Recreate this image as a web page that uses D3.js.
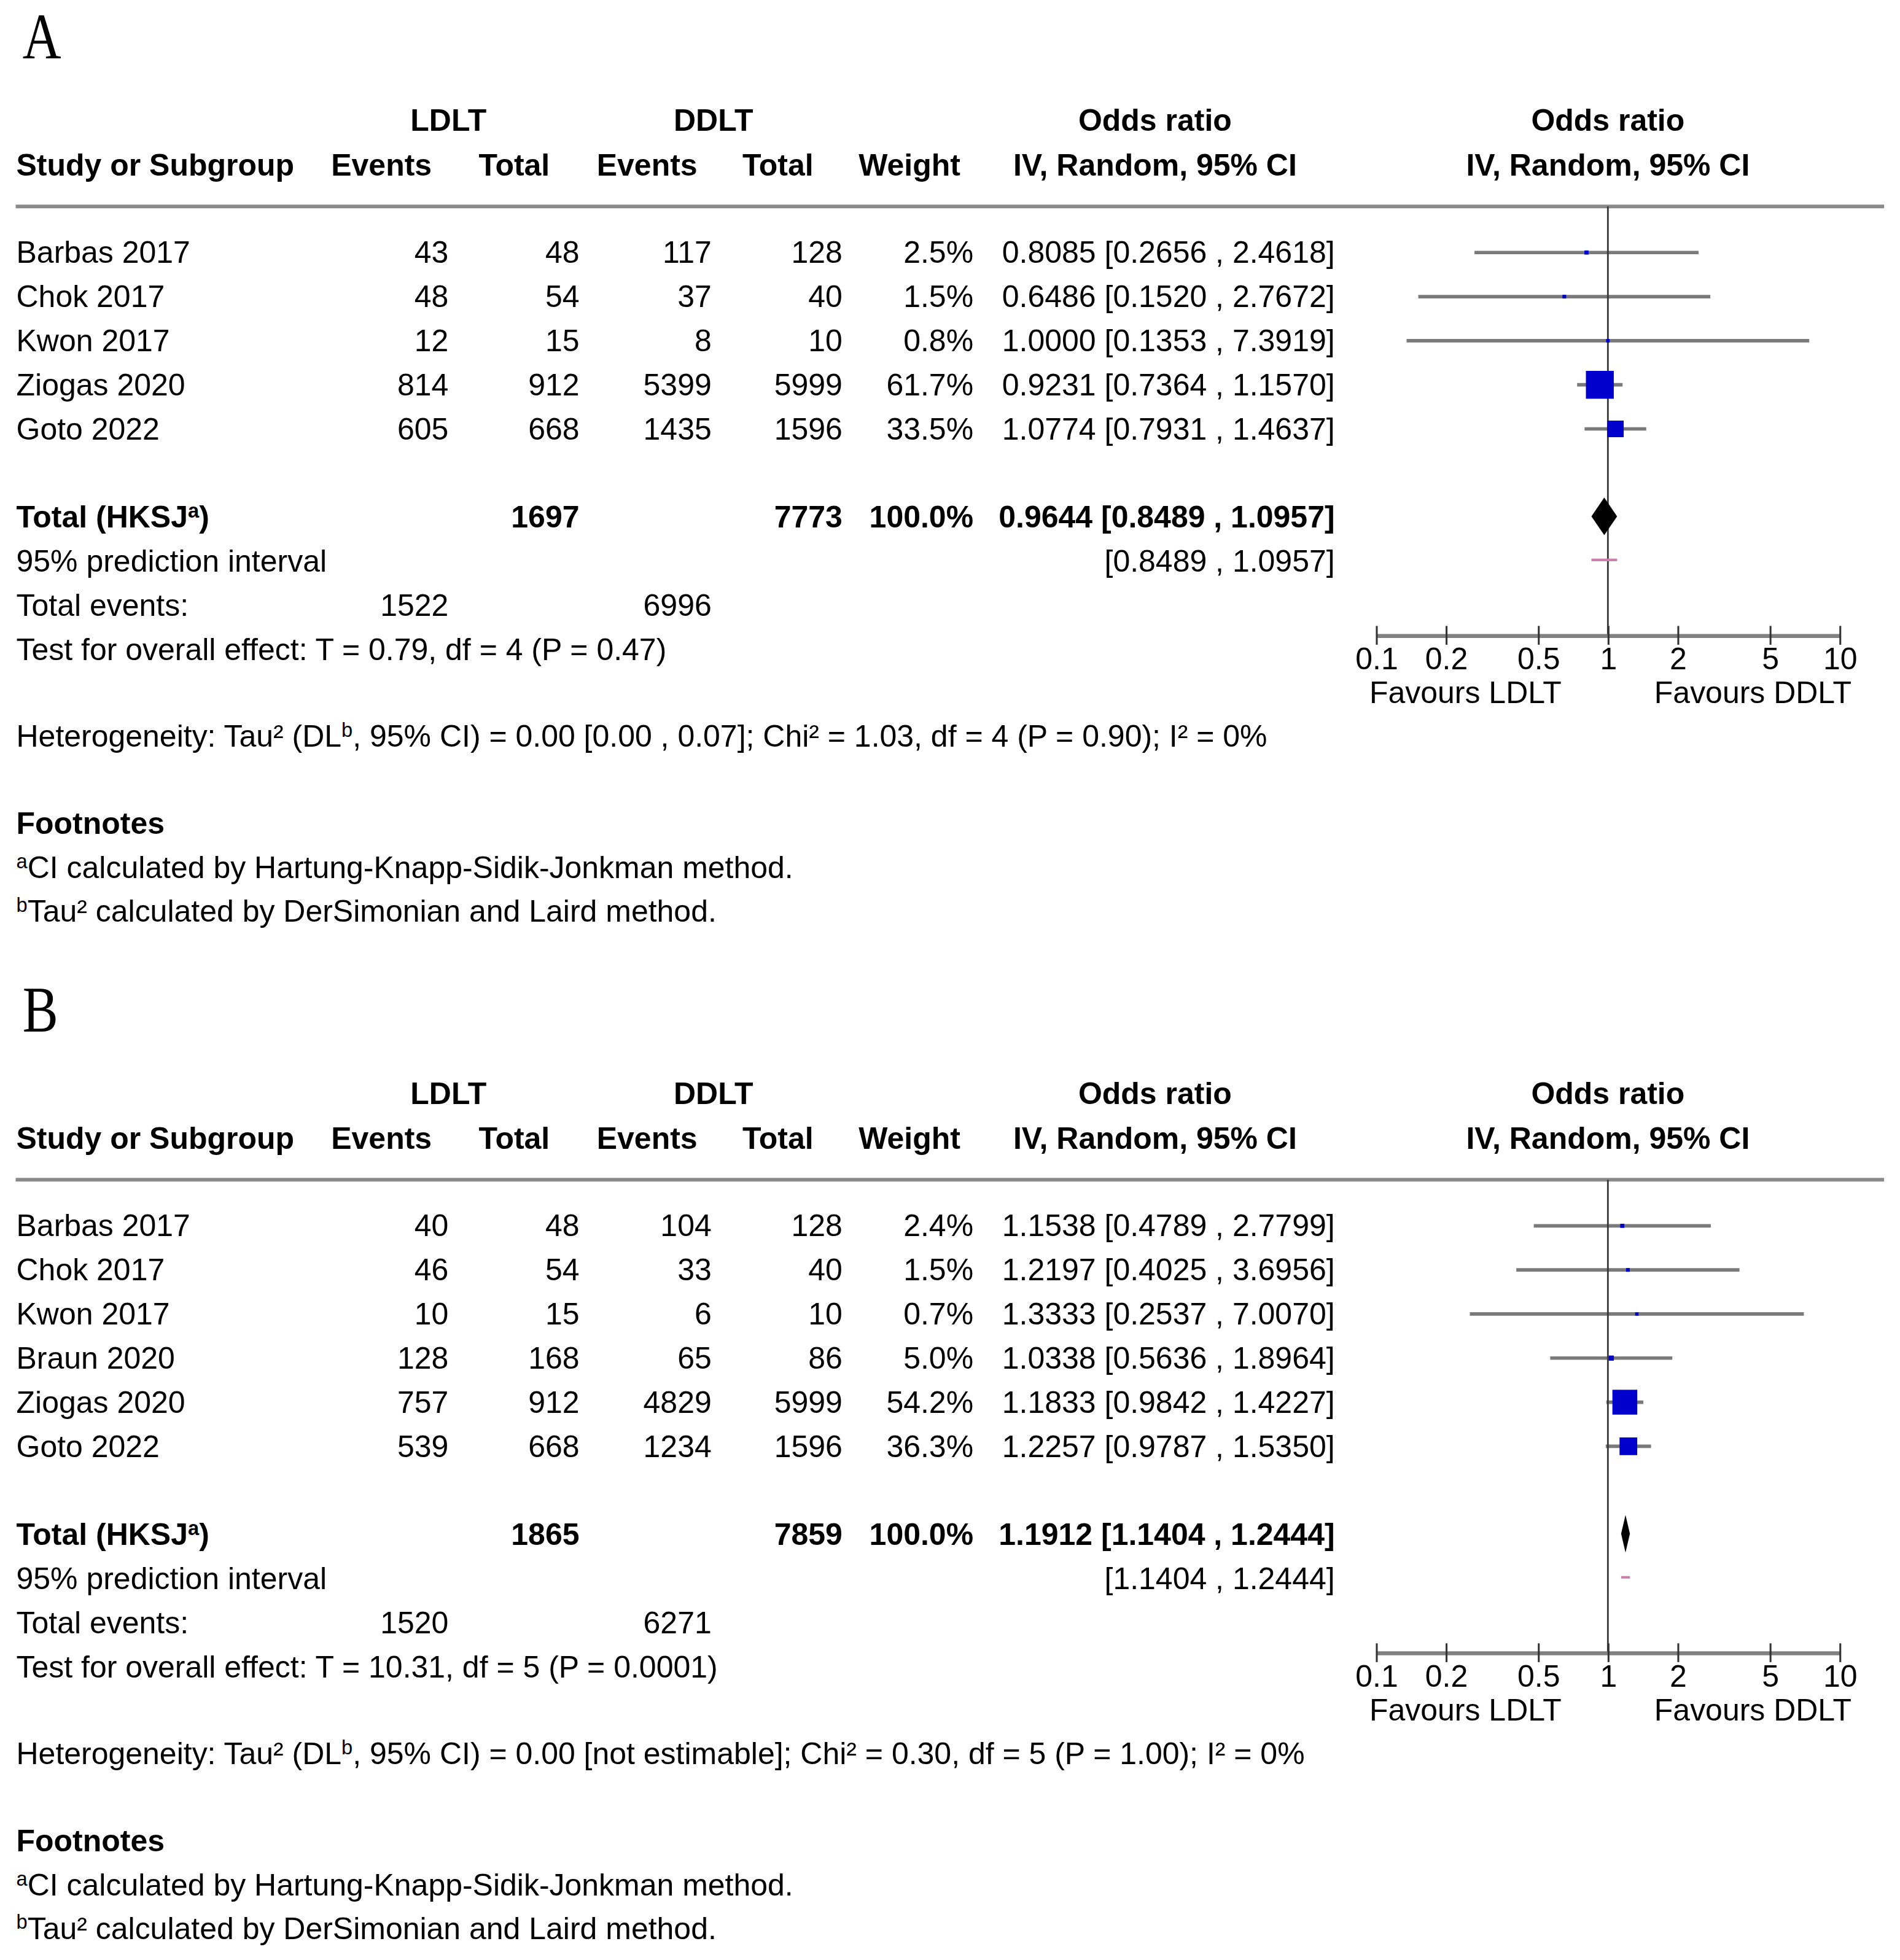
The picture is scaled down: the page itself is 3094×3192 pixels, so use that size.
<!DOCTYPE html>
<html>
<head>
<meta charset="utf-8">
<script src="https://cdn.jsdelivr.net/npm/d3@7"></script>
<style>
  html, body { margin: 0; padding: 0; background: #fff; }
  svg { display: block; }
  text { font-family: "Liberation Sans", Arial, Helvetica, sans-serif; fill: #000; }
</style>
</head>
<body>
<svg id="chart"></svg>
<script>
const W = 3094, H = 3192;
const K = 2.04;            // layout is written in units of 1/2.04 px

// --- panel A ---
const studiesA    = ['Barbas 2017', 'Chok 2017', 'Kwon 2017', 'Ziogas 2020', 'Goto 2022'];
const ldltEventsA = [43, 48, 12, 814, 605];
const ldltTotalA  = [48, 54, 15, 912, 668];
const ddltEventsA = [117, 37, 8, 5399, 1435];
const ddltTotalA  = [128, 40, 10, 5999, 1596];
const weightA     = [2.5, 1.5, 0.8, 61.7, 33.5];
const orA         = [0.8085, 0.6486, 1.0000, 0.9231, 1.0774];
const loA         = [0.2656, 0.1520, 0.1353, 0.7364, 0.7931];
const hiA         = [2.4618, 2.7672, 7.3919, 1.1570, 1.4637];
const sumsA       = [1522, 1697, 6996, 7773];        // LDLT events, LDLT total, DDLT events, DDLT total
const pooledA     = [0.9644, 0.8489, 1.0957];        // OR, lower, upper
const predA       = [0.8489, 1.0957];
const testA       = 'Test for overall effect: T = 0.79, df = 4 (P = 0.47)';
const hetA        = ['Heterogeneity: Tau² (DL', 'b', ', 95% CI) = 0.00 [0.00 , 0.07]; Chi² = 1.03, df = 4 (P = 0.90); I² = 0%'];

// --- panel B ---
const studiesB    = ['Barbas 2017', 'Chok 2017', 'Kwon 2017', 'Braun 2020', 'Ziogas 2020', 'Goto 2022'];
const ldltEventsB = [40, 46, 10, 128, 757, 539];
const ldltTotalB  = [48, 54, 15, 168, 912, 668];
const ddltEventsB = [104, 33, 6, 65, 4829, 1234];
const ddltTotalB  = [128, 40, 10, 86, 5999, 1596];
const weightB     = [2.4, 1.5, 0.7, 5.0, 54.2, 36.3];
const orB         = [1.1538, 1.2197, 1.3333, 1.0338, 1.1833, 1.2257];
const loB         = [0.4789, 0.4025, 0.2537, 0.5636, 0.9842, 0.9787];
const hiB         = [2.7799, 3.6956, 7.0070, 1.8964, 1.4227, 1.5350];
const sumsB       = [1520, 1865, 6271, 7859];
const pooledB     = [1.1912, 1.1404, 1.2444];
const predB       = [1.1404, 1.2444];
const testB       = 'Test for overall effect: T = 10.31, df = 5 (P = 0.0001)';
const hetB        = ['Heterogeneity: Tau² (DL', 'b', ', 95% CI) = 0.00 [not estimable]; Chi² = 0.30, df = 5 (P = 1.00); I² = 0%'];

// shared labels
const axisTicks  = [0.1, 0.2, 0.5, 1, 2, 5, 10];
const favours    = ['Favours LDLT', 'Favours DDLT'];
const footnoteA  = ['', 'a', 'CI calculated by Hartung-Knapp-Sidik-Jonkman method.'];
const footnoteB  = ['', 'b', 'Tau² calculated by DerSimonian and Laird method.'];

const FS = 24.5;
const ROW = 35.2;
const COL = { study: 13, ldltEv: 358, ldltTot: 462.5, ddltEv: 568, ddltTot: 672.5, weight: 777, ci: 1065.5 };

const x = d3.scaleLog().domain([0.1, 10]).range([1098.5, 1468.5]);
const box = d3.scaleLinear().domain([0, 100]).range([2.5, 34.5]);
const f4 = d3.format('.4f');
const f1 = d3.format('.1f');
const ciText = (o, l, h) => `${f4(o)} [${f4(l)} , ${f4(h)}]`;

const svg = d3.select('#chart')
  .attr('width', W).attr('height', H)
  .attr('viewBox', `0 0 ${W} ${H}`);
svg.append('rect').attr('width', W).attr('height', H).attr('fill', '#fff');
const root = svg.append('g').attr('transform', `scale(${K})`);

// text with alternating normal / superscript pieces
function label(g, px, py, parts, anchor, bold) {
  const t = g.append('text')
    .attr('x', px).attr('y', py)
    .attr('font-size', FS)
    .attr('text-anchor', anchor || 'start')
    .attr('font-weight', bold ? 'bold' : null);
  if (typeof parts === 'string') return t.text(parts);
  parts.forEach((s, i) => {
    const sup = i % 2 === 1;
    t.append('tspan')
      .attr('font-size', sup ? 16 : FS)
      .attr('dy', sup ? -8 : (i > 0 ? 8 : 0))
      .text(s);
  });
  return t;
}

function drawPanel(p, top) {
  const g = root.append('g').attr('transform', `translate(0,${top})`);

  g.append('text')
    .attr('transform', 'translate(18,46.6) scale(0.82,1)')
    .style('font-family', '"Liberation Serif", "Times New Roman", serif')
    .attr('font-size', 52)
    .text(p.tag);

  const xc = x(1);

  // header
  const h1 = 104.5, h2 = 140.2;
  label(g, 358, h1, 'LDLT', 'middle', true);
  label(g, 569.5, h1, 'DDLT', 'middle', true);
  label(g, 922, h1, 'Odds ratio', 'middle', true);
  label(g, xc, h1, 'Odds ratio', 'middle', true);
  label(g, COL.study, h2, 'Study or Subgroup', 'start', true);
  label(g, 304.5, h2, 'Events', 'middle', true);
  label(g, 410.5, h2, 'Total', 'middle', true);
  label(g, 516.5, h2, 'Events', 'middle', true);
  label(g, 621, h2, 'Total', 'middle', true);
  label(g, 726, h2, 'Weight', 'middle', true);
  label(g, 922, h2, 'IV, Random, 95% CI', 'middle', true);
  label(g, xc, h2, 'IV, Random, 95% CI', 'middle', true);

  const ruleY = 164.8;
  g.append('line')
    .attr('x1', 12.5).attr('x2', 1504)
    .attr('y1', ruleY).attr('y2', ruleY)
    .attr('stroke', '#8a8a8a').attr('stroke-width', 3);

  const n = p.studies.length;
  const rowY = i => 210 + ROW * i;   // text baseline
  const T = rowY(n + 1);             // total row baseline
  const axisY = T + 86;

  // study rows (text)
  p.studies.forEach((s, i) => {
    const y = rowY(i);
    label(g, COL.study, y, s);
    label(g, COL.ldltEv, y, String(p.ldltEvents[i]), 'end');
    label(g, COL.ldltTot, y, String(p.ldltTotal[i]), 'end');
    label(g, COL.ddltEv, y, String(p.ddltEvents[i]), 'end');
    label(g, COL.ddltTot, y, String(p.ddltTotal[i]), 'end');
    label(g, COL.weight, y, f1(p.weight[i]) + '%', 'end');
    label(g, COL.ci, y, ciText(p.or[i], p.lo[i], p.hi[i]), 'end');
  });

  // totals
  label(g, COL.study, T, ['Total (HKSJ', 'a', ')'], 'start', true);
  label(g, COL.ldltTot, T, String(p.sums[1]), 'end', true);
  label(g, COL.ddltTot, T, String(p.sums[3]), 'end', true);
  label(g, COL.weight, T, '100.0%', 'end', true);
  label(g, COL.ci, T, ciText(p.pooled[0], p.pooled[1], p.pooled[2]), 'end', true);

  label(g, COL.study, T + ROW, '95% prediction interval');
  label(g, COL.ci, T + ROW, `[${f4(p.pred[0])} , ${f4(p.pred[1])}]`, 'end');

  label(g, COL.study, T + 2 * ROW, 'Total events:');
  label(g, COL.ldltEv, T + 2 * ROW, String(p.sums[0]), 'end');
  label(g, COL.ddltEv, T + 2 * ROW, String(p.sums[2]), 'end');

  label(g, COL.study, T + 3 * ROW, p.test);
  label(g, COL.study, T + 175, p.het);
  label(g, COL.study, T + 244.5, 'Footnotes', 'start', true);
  label(g, COL.study, T + 280, footnoteA);
  label(g, COL.study, T + 314.5, footnoteB);

  // forest plot
  const plot = g.append('g');
  plot.selectAll('line.ci').data(p.studies).join('line')
    .attr('class', 'ci')
    .attr('x1', (d, i) => x(p.lo[i])).attr('x2', (d, i) => x(p.hi[i]))
    .attr('y1', (d, i) => rowY(i) - 8.4).attr('y2', (d, i) => rowY(i) - 8.4)
    .attr('stroke', '#7a7a7a').attr('stroke-width', 2.8);

  plot.append('line')
    .attr('x1', xc).attr('x2', xc)
    .attr('y1', ruleY).attr('y2', axisY)
    .attr('stroke', '#3a3a3a').attr('stroke-width', 1.4);

  plot.selectAll('rect.box').data(p.studies).join('rect')
    .attr('class', 'box')
    .attr('x', (d, i) => x(p.or[i]) - box(p.weight[i]) / 2)
    .attr('y', (d, i) => rowY(i) - 8.4 - box(p.weight[i]) / 2)
    .attr('width', (d, i) => box(p.weight[i]))
    .attr('height', (d, i) => box(p.weight[i]))
    .attr('fill', '#0000cc');

  const dy = T - 9;
  plot.append('path')
    .attr('d', d3.line()([
      [x(p.pooled[1]), dy], [x(p.pooled[0]), dy - 15],
      [x(p.pooled[2]), dy], [x(p.pooled[0]), dy + 15]
    ]) + 'Z')
    .attr('fill', '#000');

  plot.append('line')
    .attr('x1', x(p.pred[0])).attr('x2', x(p.pred[1]))
    .attr('y1', T + ROW - 9.4).attr('y2', T + ROW - 9.4)
    .attr('stroke', '#cc7fab').attr('stroke-width', 2);

  const ax = plot.append('g')
    .attr('transform', `translate(0,${axisY})`)
    .call(d3.axisBottom(x)
      .tickValues(axisTicks)
      .tickFormat(d3.format('~g'))
      .tickSizeOuter(0)
      .tickSizeInner(7));
  ax.attr('font-size', FS).attr('font-family', null);
  ax.select('.domain').attr('stroke', '#808080').attr('stroke-width', 3.2);
  ax.selectAll('.tick line')
    .attr('y1', -7.5).attr('y2', 7.5)
    .attr('stroke', '#333').attr('stroke-width', 1.5);
  ax.selectAll('.tick text')
    .attr('y', 27).attr('dy', null)
    .attr('fill', '#000');

  label(g, xc - 37, axisY + 54, favours[0], 'end');
  label(g, xc + 37, axisY + 54, favours[1], 'start');
}

drawPanel({
  tag: 'A', studies: studiesA,
  ldltEvents: ldltEventsA, ldltTotal: ldltTotalA,
  ddltEvents: ddltEventsA, ddltTotal: ddltTotalA,
  weight: weightA, or: orA, lo: loA, hi: hiA,
  sums: sumsA, pooled: pooledA, pred: predA, test: testA, het: hetA
}, 0);

drawPanel({
  tag: 'B', studies: studiesB,
  ldltEvents: ldltEventsB, ldltTotal: ldltTotalB,
  ddltEvents: ddltEventsB, ddltTotal: ddltTotalB,
  weight: weightB, or: orB, lo: loB, hi: hiB,
  sums: sumsB, pooled: pooledB, pred: predB, test: testB, het: hetB
}, 777);
</script>
</body>
</html>
